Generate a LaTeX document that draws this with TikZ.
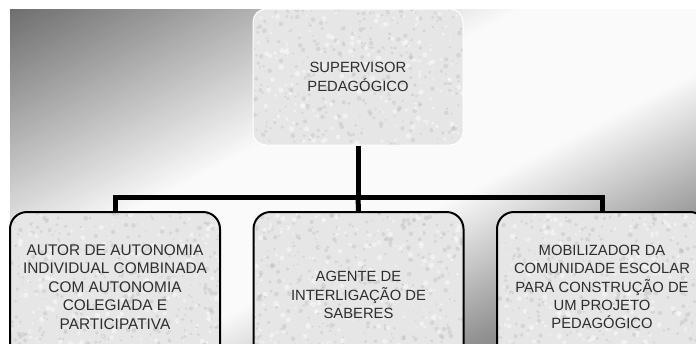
\documentclass[tikz,border=0pt]{standalone}
\usepackage{fontspec}
\setmainfont{Liberation Sans}
\definecolor{boxfill}{HTML}{E6E6E6}
\definecolor{speckd}{HTML}{B8B8B8}
\definecolor{textc}{HTML}{2E2E2E}
\begin{document}
\begin{tikzpicture}[x=1pt,y=-1pt,
  speckle/.style={path picture={
    \foreach \i in {1,...,420}{
      \pgfmathsetmacro\rx{rnd*215}\pgfmathsetmacro\ry{rnd*175}\pgfmathsetmacro\rr{0.7+rnd*1.8}
      \fill[speckd, fill opacity=0.35] ([shift={(\rx,\ry)}]path picture bounding box.north west) circle[radius=\rr];
    }
    \foreach \i in {1,...,250}{
      \pgfmathsetmacro\rx{rnd*215}\pgfmathsetmacro\ry{rnd*175}\pgfmathsetmacro\rr{0.8+rnd*2}
      \fill[white, fill opacity=0.45] ([shift={(\rx,\ry)}]path picture bounding box.north west) circle[radius=\rr];
    }}},
  granite/.style={fill=boxfill, speckle, align=center, text=textc, inner sep=0pt,
    font=\fontsize{14.8}{18.4}\selectfont},
  topbox/.style={granite, draw=white, line width=1pt, rounded corners=13pt,
    minimum width=210pt, minimum height=136pt},
  leafbox/.style={granite, draw=black, line width=2pt, rounded corners=17pt,
    minimum width=210pt},
  conn/.style={draw=black, line width=5pt, line join=miter}]
\pgfmathsetseed{11}
\useasboundingbox (0,0) rectangle (696,343);
\clip (0,0) rectangle (696,343);
% background gradient
\begin{scope}
  \clip (10,9) rectangle (696,343);
  \begin{scope}[x={(0.461pt,-0.887pt)}, y={(-0.887pt,-0.461pt)}]
    \foreach \d in {0,2,...,660}{
      \pgfmathsetmacro\g{(\d<12) ? 110 : ((\d<248) ? (110+0.5932*(\d-12)) : ((\d<385) ? 250 : ((\d<523) ? (250-0.7681*(\d-385)) : max(110,144-0.2906*(\d-523)))))}
      \pgfmathsetmacro\gg{\g/255}
      \definecolor{bgc}{gray}{\gg}
      \fill[bgc] (\d,-900) -- (\d+2.7,-900) -- (\d+2.7,900) -- (\d,900) -- cycle;
    }
  \end{scope}
\end{scope}
% nodes
\node[topbox] (top) at (358,77) {SUPERVISOR\\PEDAGÓGICO};
\node[leafbox, minimum height=150pt, font=\fontsize{15.4}{18.4}\selectfont] (b1) at (115,287)
  {AUTOR DE AUTONOMIA\\INDIVIDUAL COMBINADA\\COM AUTONOMIA\\COLEGIADA E\\PARTICIPATIVA};
\node[leafbox, minimum height=166pt] (b2) at (358.5,295)
  {AGENTE DE\\INTERLIGAÇÃO DE\\SABERES};
\node[leafbox, minimum height=150pt] (b3) at (602,287)
  {MOBILIZADOR DA\\COMUNIDADE ESCOLAR\\PARA CONSTRUÇÃO DE\\UM PROJETO\\PEDAGÓGICO};
% connectors
\coordinate (j) at (358,197);
\draw[conn] (top.south) -- (j);
\draw[conn] (b1.north) |- (j) -| (b3.north);
\draw[conn] (j) -- (b2.north);
\end{tikzpicture}
\end{document}
